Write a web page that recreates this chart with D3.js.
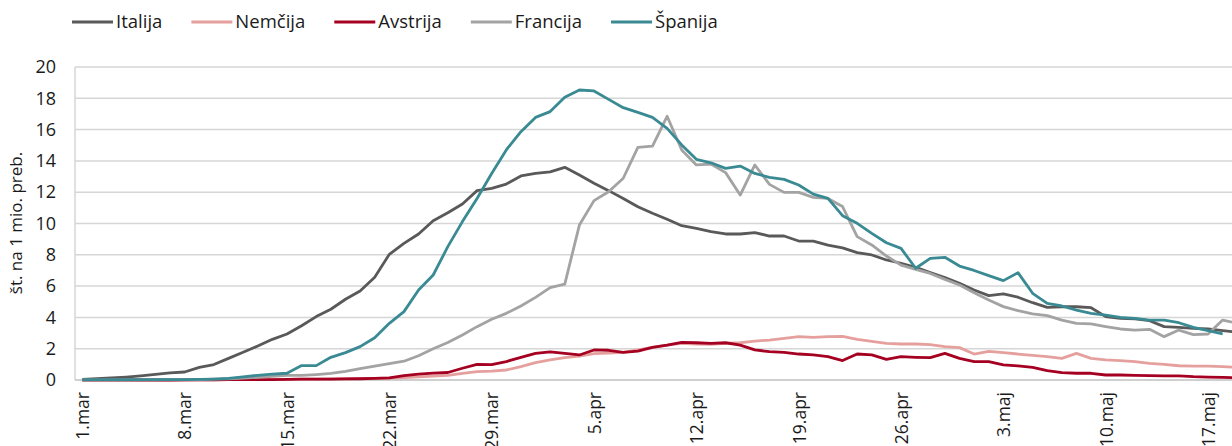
<!DOCTYPE html>
<html>
<head>
<meta charset="utf-8">
<script src="https://cdn.jsdelivr.net/npm/d3@7"></script>
<style>
  body { margin: 0; background: #fff; }
  svg { display: block; font-family: "Open Sans", sans-serif; }
</style>
</head>
<body>
<svg width="1232" height="446"></svg>
<script>
/* global d3 */
// dnevne vrednosti, 1.mar - 19.maj (st. na 1 mio. preb.)
var italija = [0.04, 0.08, 0.13, 0.19, 0.27, 0.36, 0.45, 0.51, 0.81, 0.99,
  1.38, 1.77, 2.17, 2.6, 2.94, 3.47, 4.05, 4.52, 5.16, 5.69,
  6.56, 8.03, 8.73, 9.33, 10.18, 10.69, 11.25, 12.1, 12.25, 12.52,
  13.04, 13.2, 13.3, 13.59, 13.1, 12.57, 12.1, 11.6, 11.07, 10.65,
  10.27, 9.86, 9.69, 9.48, 9.33, 9.33, 9.42, 9.2, 9.2, 8.88,
  8.88, 8.62, 8.44, 8.14, 7.99, 7.67, 7.46, 7.2, 6.86, 6.54,
  6.18, 5.75, 5.39, 5.5, 5.29, 4.94, 4.64, 4.68, 4.68, 4.62,
  4.05, 3.94, 3.9, 3.79, 3.41, 3.36, 3.3, 3.26, 3.15, 3.05];

var nemcija = [0, 0, 0, 0, 0, 0, 0, 0, 0.01, 0.01,
  0.02, 0.02, 0.03, 0.03, 0.04, 0.05, 0.06, 0.07, 0.08, 0.09,
  0.1, 0.12, 0.15, 0.2, 0.25, 0.3, 0.43, 0.53, 0.57, 0.64,
  0.85, 1.11, 1.28, 1.43, 1.53, 1.68, 1.72, 1.77, 1.92, 2.09,
  2.23, 2.34, 2.3, 2.28, 2.34, 2.38, 2.49, 2.55, 2.66, 2.77,
  2.73, 2.77, 2.79, 2.6, 2.47, 2.34, 2.3, 2.3, 2.26, 2.13,
  2.07, 1.66, 1.83, 1.75, 1.66, 1.58, 1.49, 1.38, 1.7, 1.38,
  1.28, 1.24, 1.17, 1.06, 1.0, 0.91, 0.89, 0.89, 0.85, 0.81];

var avstrija = [0, 0, 0, 0, 0, 0, 0, 0.01, 0.01, 0.01,
  0.02, 0.02, 0.03, 0.03, 0.04, 0.05, 0.05, 0.06, 0.07, 0.08,
  0.1, 0.13, 0.28, 0.38, 0.44, 0.48, 0.75, 1.0, 0.98, 1.18,
  1.45, 1.7, 1.8, 1.7, 1.6, 1.92, 1.9, 1.77, 1.85, 2.09,
  2.23, 2.4, 2.38, 2.34, 2.38, 2.23, 1.92, 1.81, 1.77, 1.66,
  1.6, 1.49, 1.24, 1.66, 1.6, 1.32, 1.49, 1.45, 1.43, 1.7,
  1.38, 1.17, 1.17, 0.96, 0.9, 0.81, 0.6, 0.47, 0.43, 0.43,
  0.32, 0.32, 0.3, 0.28, 0.26, 0.26, 0.21, 0.19, 0.17, 0.15];

var francija = [0, 0, 0, 0, 0.01, 0.01, 0.02, 0.02, 0.03, 0.05,
  0.08, 0.12, 0.17, 0.23, 0.3, 0.3, 0.35, 0.42, 0.55, 0.72,
  0.88, 1.05, 1.2, 1.55, 2.0, 2.4, 2.88, 3.41, 3.88, 4.26,
  4.73, 5.28, 5.9, 6.13, 9.9, 11.46, 12.03, 12.89, 14.87, 14.95,
  16.85, 14.7, 13.74, 13.8, 13.25, 11.82, 13.74, 12.5, 11.99, 11.99,
  11.67, 11.6, 11.08, 9.16, 8.63, 7.92, 7.34, 7.07, 6.81, 6.43,
  6.07, 5.58, 5.11, 4.69, 4.43, 4.22, 4.11, 3.83, 3.62, 3.58,
  3.41, 3.26, 3.19, 3.24, 2.77, 3.19, 2.9, 2.94, 3.83, 3.62];

var spanija = [0.02, 0.02, 0.02, 0.02, 0.02, 0.02, 0.03, 0.03, 0.04, 0.06,
  0.1, 0.2, 0.3, 0.38, 0.43, 0.92, 0.92, 1.45, 1.75, 2.13,
  2.7, 3.62, 4.37, 5.75, 6.71, 8.52, 10.12, 11.6, 13.2, 14.7,
  15.87, 16.78, 17.15, 18.06, 18.53, 18.47, 17.93, 17.4, 17.1, 16.78,
  16.08, 15.02, 14.1, 13.88, 13.52, 13.67, 13.2, 12.95, 12.82, 12.46,
  11.88, 11.6, 10.5, 10.01, 9.37, 8.77, 8.41, 7.14, 7.77, 7.84,
  7.28, 7.0, 6.67, 6.35, 6.86, 5.54, 4.9, 4.73, 4.47, 4.26,
  4.15, 4.0, 3.94, 3.83, 3.83, 3.66, 3.36, 3.15, 2.94, null];

var imena = ["Italija", "Nemčija", "Avstrija", "Francija", "Španija"];
var barve = ["#595959", "#e5a09e", "#a50021", "#a3a3a3", "#3a8a94"];
var oznakeX = ["1.mar", "8.mar", "15.mar", "22.mar", "29.mar", "5.apr",
  "12.apr", "19.apr", "26.apr", "3.maj", "10.maj", "17.maj"];
var oznakeY = [0, 2, 4, 6, 8, 10, 12, 14, 16, 18, 20];
var meseci = [["mar", 31], ["apr", 30], ["maj", 19]];

var dnevi = [];
meseci.forEach(function(m) {
  for (var i = 1; i <= m[1]; i++) dnevi.push(i + "." + m[0]);
});

var serije = [italija, nemcija, avstrija, francija, spanija].map(function(v, i) {
  return {ime: imena[i], barva: barve[i], vrednosti: v};
});

var svg = d3.select("svg");
var levo = 75, zgoraj = 67, spodaj = 380, korak = 14.62;

var x = d3.scalePoint()
  .domain(dnevi)
  .range([levo, levo + dnevi.length * korak])
  .padding(0.5);

var y = d3.scaleLinear().domain([0, 20]).range([spodaj, zgoraj]);

// mreza
svg.append("g")
  .selectAll("line")
  .data(oznakeY.filter(function(d) { return d > 0; }))
  .enter().append("line")
  .attr("x1", levo).attr("x2", 1240)
  .attr("y1", function(d) { return y(d); })
  .attr("y2", function(d) { return y(d); })
  .attr("stroke", "#d6d6d6")
  .attr("stroke-width", 1.5);

svg.append("line")
  .attr("x1", levo).attr("x2", levo)
  .attr("y1", zgoraj).attr("y2", spodaj)
  .attr("stroke", "#d6d6d6").attr("stroke-width", 1.5);

// os y
var osY = svg.append("g")
  .attr("transform", "translate(" + levo + ",0)")
  .call(d3.axisLeft(y).tickValues(oznakeY).tickSize(0).tickPadding(19));
osY.select(".domain").remove();
osY.selectAll("text")
  .attr("fill", "#1a1a1a")
  .style("font-size", "18px")
  .style("font-family", "Open Sans, sans-serif");

svg.append("text")
  .attr("transform", "translate(22,223) rotate(-90)")
  .attr("text-anchor", "middle")
  .attr("fill", "#1a1a1a")
  .style("font-size", "17px")
  .text("št. na 1 mio. preb.");

// os x
var osX = svg.append("g")
  .attr("transform", "translate(0," + spodaj + ")")
  .call(d3.axisBottom(x).tickValues(oznakeX).tickSize(0));
osX.select(".domain")
  .attr("d", "M" + levo + ",0H1240")
  .attr("stroke", "#cfcfcf")
  .attr("stroke-width", 2);
osX.selectAll("text")
  .attr("transform", "rotate(-90)")
  .attr("text-anchor", "end")
  .attr("x", -12)
  .attr("y", 0)
  .attr("dy", "0.36em")
  .attr("fill", "#1a1a1a")
  .style("font-size", "17.5px")
  .style("font-family", "Open Sans, sans-serif");

// crte
var crta = d3.line()
  .defined(function(d) { return d != null; })
  .x(function(d, i) { return x(dnevi[i]); })
  .y(function(d) { return y(d); });

svg.append("g")
  .selectAll("path")
  .data(serije)
  .enter().append("path")
  .attr("fill", "none")
  .attr("stroke", function(d) { return d.barva; })
  .attr("stroke-width", 2.8)
  .attr("stroke-linejoin", "round")
  .attr("d", function(d) { return crta(d.vrednosti); });

// legenda
var lx = 72;
serije.forEach(function(s) {
  var g = svg.append("g").attr("transform", "translate(" + lx + ",22)");
  g.append("line")
    .attr("x1", 0).attr("x2", 41)
    .attr("stroke", s.barva).attr("stroke-width", 3);
  var t = g.append("text")
    .attr("x", 44).attr("dy", "0.35em")
    .attr("fill", "#1a1a1a")
    .style("font-size", "18.5px")
    .text(s.ime);
  lx += 44 + t.node().getComputedTextLength() + 29;
});
</script>
</body>
</html>
